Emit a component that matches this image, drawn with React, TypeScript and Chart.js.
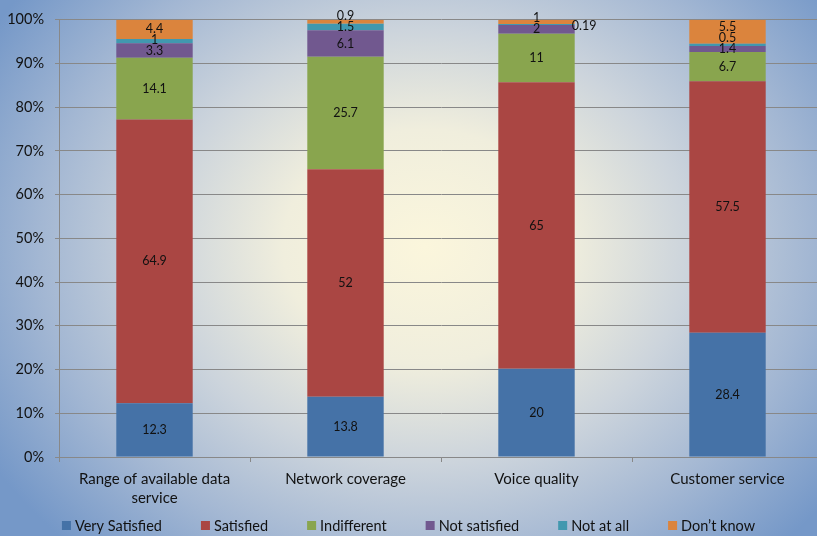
import React, { useEffect, useRef } from "react";
import { Chart, registerables } from "chart.js";

Chart.register(...registerables);

const categories: (string | string[])[] = [
  ["Range of available data", "service"],
  "Network coverage",
  "Voice quality",
  "Customer service",
];
const seriesNames = ["Very Satisfied", "Satisfied", "Indifferent", "Not satisfied", "Not at all", "Don\u2019t know"];
const verySatisfied = [12.3, 13.8, 20, 28.4];
const satisfied = [64.9, 52, 65, 57.5];
const indifferent = [14.1, 25.7, 11, 6.7];
const notSatisfied = [3.3, 6.1, 2, 1.4];
const notAtAll = [1, 1.5, 0.19, 0.5];
const dontKnow = [4.4, 0.9, 1, 5.5];
const seriesValues = [verySatisfied, satisfied, indifferent, notSatisfied, notAtAll, dontKnow];
const seriesColors = ["#4572a7", "#aa4643", "#89a54e", "#71588f", "#4198af", "#db843d"];

const FONT = "Lato, 'Open Sans', sans-serif";

const totals = categories.map((_, i) => seriesValues.reduce((s, arr) => s + arr[i], 0));

const labelPlugin = {
  id: "segLabels",
  afterDatasetsDraw(chart: any) {
    const ctx = chart.ctx;
    ctx.save();
    ctx.font = `12.5px ${FONT}`;
    ctx.fillStyle = "#111";
    ctx.textBaseline = "middle";
    const n = chart.data.labels.length;
    for (let i = 0; i < n; i++) {
      let prev = Infinity;
      chart.data.datasets.forEach((ds: any, di: number) => {
        const el = chart.getDatasetMeta(di).data[i] as any;
        const raw = ds.rawValues[i];
        const cy = (el.y + el.base) / 2;
        if (raw < 0.3) {
          ctx.textAlign = "left";
          ctx.fillText(String(raw), el.x + el.width / 2 - 3, cy + 1);
          return;
        }
        const y = Math.min(cy, prev - 11);
        prev = y;
        ctx.textAlign = "center";
        ctx.fillText(String(raw), el.x, y);
      });
    }
    ctx.restore();
  },
};

const legendPlugin = {
  id: "customLegend",
  afterDraw(chart: any) {
    const ctx = chart.ctx;
    ctx.save();
    ctx.font = `14.5px ${FONT}`;
    ctx.textBaseline = "middle";
    const box = 9;
    const textGap = 4;
    const gap = 39;
    const items = chart.data.datasets.map((ds: any) => ({
      label: ds.label,
      color: ds.backgroundColor,
      w: box + textGap + ctx.measureText(ds.label).width,
    }));
    const total = items.reduce((s: number, it: any) => s + it.w, 0) + gap * (items.length - 1);
    let x = 408.5 - total / 2;
    const y = 526;
    items.forEach((it: any) => {
      ctx.fillStyle = it.color;
      ctx.fillRect(x, y - box / 2 - 0.5, box, box);
      ctx.fillStyle = "#111";
      ctx.textAlign = "left";
      ctx.fillText(it.label, x + box + textGap, y);
      x += it.w + gap;
    });
    ctx.restore();
  },
};

export default function App() {
  const ref = useRef<HTMLCanvasElement>(null);
  useEffect(() => {
    if (!ref.current) return;
    const chart = new Chart(ref.current, {
      type: "bar",
      data: {
        labels: categories as any,
        datasets: seriesValues.map((vals, si) => ({
          label: seriesNames[si],
          data: vals.map((v, i) => (v / totals[i]) * 100),
          rawValues: vals,
          backgroundColor: seriesColors[si],
          borderWidth: 0,
          barPercentage: 0.4,
          categoryPercentage: 1,
        })) as any,
      },
      options: {
        responsive: false,
        animation: false,
        layout: { padding: { top: 18, right: 0, bottom: 30, left: 0 } },
        plugins: {
          legend: { display: false },
          tooltip: { enabled: false },
          title: { display: false },
        },
        scales: {
          x: {
            stacked: true,
            grid: { drawOnChartArea: false, drawTicks: true, tickLength: 5, color: "#888", offset: true },
            border: { display: true, color: "#888" },
            ticks: {
              color: "#111",
              font: { family: FONT, size: 15, lineHeight: 1.25 },
              padding: 8,
              maxRotation: 0,
              autoSkip: false,
            },
            afterFit(scale: any) {
              scale.height = 49;
            },
          },
          y: {
            stacked: true,
            min: 0,
            max: 100,
            grid: { color: "#888", tickLength: 4, drawTicks: true },
            border: { display: true, color: "#888" },
            ticks: {
              stepSize: 10,
              color: "#111",
              font: { family: FONT, size: 14.5 },
              padding: 11,
              callback: (v: any) => v + "%",
            },
            afterFit(scale: any) {
              scale.width = 59;
            },
          },
        },
      },
      plugins: [labelPlugin, legendPlugin],
    });
    return () => chart.destroy();
  }, []);
  return (
    <div
      style={{
        position: "fixed",
        left: 0,
        top: 0,
        width: 817,
        height: 536,
        overflow: "hidden",
        background:
          "radial-gradient(ellipse 62% 78% at 52% 46%, #fbf6dc 0%, #f0eedd 28%, #ccd4dc 52%, #a3b7d3 76%, #7598c8 100%)",
      }}
    >
      <canvas ref={ref} width={823} height={536} style={{ display: "block" }} />
    </div>
  );
}
